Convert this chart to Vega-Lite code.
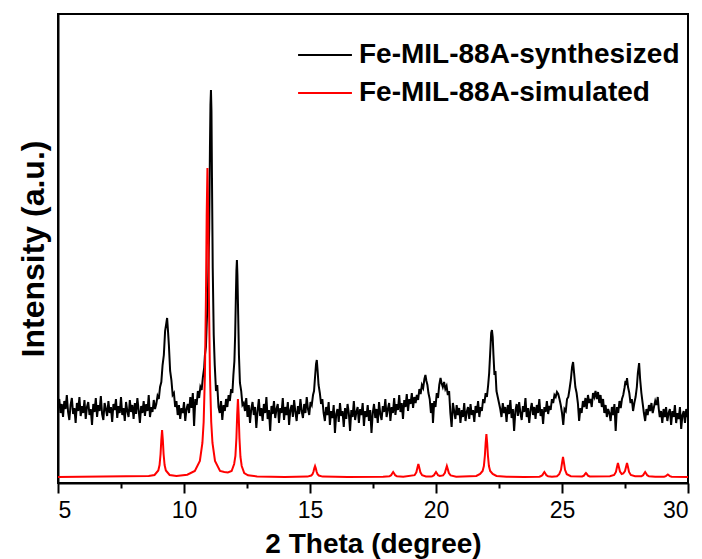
{
"$schema": "https://vega.github.io/schema/vega-lite/v6.json",
"width": 630, "height": 469,
"autosize": "none",
"padding": {"left": 58, "top": 14, "right": 14, "bottom": 76},
"background": "white",
"config": {"view": {"stroke": "black", "strokeWidth": 2}, "font": "Liberation Sans",
  "legend": {"title": null, "orient": "none", "symbolType": "stroke", "symbolSize": 2900, "symbolStrokeWidth": 2,
    "labelFontSize": 28, "labelFontWeight": "bold", "labelColor": "black", "labelFont": "Liberation Sans", "labelOffset": 6, "labelLimit": 500, "padding": 0}},
"datasets": {
"synthesized": [
{"theta":5.00,"intensity":76},{"theta":5.05,"intensity":84},{"theta":5.10,"intensity":70},{"theta":5.15,"intensity":79},{"theta":5.20,"intensity":66},{"theta":5.25,"intensity":82},{"theta":5.30,"intensity":74},{"theta":5.35,"intensity":88},{"theta":5.40,"intensity":71},{"theta":5.45,"intensity":63},{"theta":5.50,"intensity":78},{"theta":5.55,"intensity":85},{"theta":5.60,"intensity":69},{"theta":5.65,"intensity":75},{"theta":5.70,"intensity":60},{"theta":5.75,"intensity":80},{"theta":5.80,"intensity":72},{"theta":5.85,"intensity":86},{"theta":5.90,"intensity":67},{"theta":5.95,"intensity":77},
{"theta":6.00,"intensity":70},{"theta":6.05,"intensity":83},{"theta":6.10,"intensity":64},{"theta":6.15,"intensity":76},{"theta":6.20,"intensity":81},{"theta":6.25,"intensity":68},{"theta":6.30,"intensity":74},{"theta":6.35,"intensity":58},{"theta":6.40,"intensity":79},{"theta":6.45,"intensity":71},{"theta":6.50,"intensity":85},{"theta":6.55,"intensity":66},{"theta":6.60,"intensity":78},{"theta":6.65,"intensity":72},{"theta":6.70,"intensity":87},{"theta":6.75,"intensity":69},{"theta":6.80,"intensity":63},{"theta":6.85,"intensity":80},{"theta":6.90,"intensity":74},{"theta":6.95,"intensity":67},
{"theta":7.00,"intensity":82},{"theta":7.05,"intensity":70},{"theta":7.10,"intensity":76},{"theta":7.15,"intensity":61},{"theta":7.20,"intensity":79},{"theta":7.25,"intensity":73},{"theta":7.30,"intensity":84},{"theta":7.35,"intensity":65},{"theta":7.40,"intensity":77},{"theta":7.45,"intensity":70},{"theta":7.50,"intensity":86},{"theta":7.55,"intensity":68},{"theta":7.60,"intensity":75},{"theta":7.65,"intensity":62},{"theta":7.70,"intensity":81},{"theta":7.75,"intensity":72},{"theta":7.80,"intensity":66},{"theta":7.85,"intensity":83},{"theta":7.90,"intensity":71},{"theta":7.95,"intensity":78},
{"theta":8.00,"intensity":64},{"theta":8.05,"intensity":80},{"theta":8.10,"intensity":69},{"theta":8.15,"intensity":85},{"theta":8.20,"intensity":73},{"theta":8.25,"intensity":60},{"theta":8.30,"intensity":77},{"theta":8.35,"intensity":70},{"theta":8.40,"intensity":82},{"theta":8.45,"intensity":67},{"theta":8.50,"intensity":79},{"theta":8.55,"intensity":72},{"theta":8.60,"intensity":88},{"theta":8.65,"intensity":66},{"theta":8.70,"intensity":76},{"theta":8.75,"intensity":71},{"theta":8.80,"intensity":83},{"theta":8.85,"intensity":74},
{"theta":8.90,"intensity":79},{"theta":8.95,"intensity":87},{"theta":9.00,"intensity":84},{"theta":9.05,"intensity":96},{"theta":9.10,"intensity":101},{"theta":9.15,"intensity":118},{"theta":9.20,"intensity":128},{"theta":9.25,"intensity":152},{"theta":9.30,"intensity":160},{"theta":9.33,"intensity":165},{"theta":9.36,"intensity":154},{"theta":9.40,"intensity":138},{"theta":9.45,"intensity":112},{"theta":9.50,"intensity":103},{"theta":9.55,"intensity":88},{"theta":9.60,"intensity":90},{"theta":9.65,"intensity":76},{"theta":9.70,"intensity":82},
{"theta":9.75,"intensity":68},{"theta":9.80,"intensity":78},{"theta":9.85,"intensity":64},{"theta":9.90,"intensity":75},{"theta":9.95,"intensity":70},{"theta":10.00,"intensity":81},{"theta":10.05,"intensity":62},{"theta":10.10,"intensity":74},{"theta":10.15,"intensity":79},
{"theta":10.20,"intensity":70},{"theta":10.25,"intensity":86},{"theta":10.30,"intensity":75},{"theta":10.35,"intensity":90},{"theta":10.40,"intensity":57},{"theta":10.45,"intensity":84},{"theta":10.50,"intensity":78},{"theta":10.55,"intensity":92},{"theta":10.60,"intensity":85},{"theta":10.65,"intensity":96},{"theta":10.70,"intensity":93},
{"theta":10.75,"intensity":106},{"theta":10.80,"intensity":115},{"theta":10.83,"intensity":128},{"theta":10.87,"intensity":136},{"theta":10.90,"intensity":158},{"theta":10.95,"intensity":190},{"theta":11.00,"intensity":255},{"theta":11.03,"intensity":335},{"theta":11.05,"intensity":378},{"theta":11.07,"intensity":393},{"theta":11.09,"intensity":372},{"theta":11.11,"intensity":305},{"theta":11.14,"intensity":215},{"theta":11.18,"intensity":148},{"theta":11.22,"intensity":118},{"theta":11.27,"intensity":92},{"theta":11.32,"intensity":98},{"theta":11.37,"intensity":76},
{"theta":11.42,"intensity":70},{"theta":11.47,"intensity":82},{"theta":11.52,"intensity":63},{"theta":11.57,"intensity":78},{"theta":11.62,"intensity":72},{"theta":11.67,"intensity":84},{"theta":11.72,"intensity":76},{"theta":11.77,"intensity":88},{"theta":11.82,"intensity":82},
{"theta":11.87,"intensity":94},{"theta":11.92,"intensity":90},{"theta":11.96,"intensity":108},{"theta":12.00,"intensity":122},{"theta":12.03,"intensity":148},{"theta":12.06,"intensity":188},{"theta":12.08,"intensity":212},{"theta":12.10,"intensity":223},{"theta":12.12,"intensity":208},{"theta":12.15,"intensity":168},{"theta":12.18,"intensity":128},{"theta":12.22,"intensity":100},{"theta":12.27,"intensity":92},{"theta":12.32,"intensity":78},{"theta":12.37,"intensity":80},
{"theta":12.42,"intensity":72},{"theta":12.47,"intensity":85},{"theta":12.52,"intensity":66},{"theta":12.57,"intensity":78},{"theta":12.62,"intensity":60},{"theta":12.67,"intensity":74},{"theta":12.72,"intensity":81},{"theta":12.77,"intensity":68},{"theta":12.82,"intensity":76},{"theta":12.87,"intensity":55},{"theta":12.92,"intensity":72},{"theta":12.97,"intensity":84},
{"theta":13.02,"intensity":67},{"theta":13.07,"intensity":75},{"theta":13.12,"intensity":62},{"theta":13.17,"intensity":79},{"theta":13.22,"intensity":70},{"theta":13.27,"intensity":86},{"theta":13.32,"intensity":64},{"theta":13.37,"intensity":73},{"theta":13.42,"intensity":52},{"theta":13.47,"intensity":77},{"theta":13.52,"intensity":69},{"theta":13.57,"intensity":82},{"theta":13.62,"intensity":65},{"theta":13.67,"intensity":74},{"theta":13.72,"intensity":79},{"theta":13.77,"intensity":60},{"theta":13.82,"intensity":75},{"theta":13.87,"intensity":70},{"theta":13.92,"intensity":85},{"theta":13.97,"intensity":63},
{"theta":14.02,"intensity":76},{"theta":14.07,"intensity":68},{"theta":14.12,"intensity":81},{"theta":14.17,"intensity":58},{"theta":14.22,"intensity":73},{"theta":14.27,"intensity":78},{"theta":14.32,"intensity":66},{"theta":14.37,"intensity":83},{"theta":14.42,"intensity":71},{"theta":14.47,"intensity":62},{"theta":14.52,"intensity":77},{"theta":14.57,"intensity":69},{"theta":14.62,"intensity":84},{"theta":14.67,"intensity":72},{"theta":14.72,"intensity":65},{"theta":14.77,"intensity":79},{"theta":14.82,"intensity":70},{"theta":14.87,"intensity":86},{"theta":14.92,"intensity":74},{"theta":14.97,"intensity":68},{"theta":15.02,"intensity":81},
{"theta":15.07,"intensity":78},{"theta":15.12,"intensity":88},{"theta":15.16,"intensity":92},{"theta":15.20,"intensity":106},{"theta":15.24,"intensity":119},{"theta":15.27,"intensity":123},{"theta":15.30,"intensity":113},{"theta":15.34,"intensity":98},{"theta":15.39,"intensity":90},{"theta":15.44,"intensity":79},{"theta":15.49,"intensity":84},
{"theta":15.54,"intensity":70},{"theta":15.59,"intensity":62},{"theta":15.64,"intensity":76},{"theta":15.69,"intensity":68},{"theta":15.74,"intensity":81},{"theta":15.79,"intensity":58},{"theta":15.84,"intensity":72},{"theta":15.89,"intensity":65},{"theta":15.94,"intensity":78},{"theta":15.99,"intensity":50},
{"theta":16.04,"intensity":69},{"theta":16.09,"intensity":74},{"theta":16.14,"intensity":61},{"theta":16.19,"intensity":80},{"theta":16.24,"intensity":67},{"theta":16.29,"intensity":72},{"theta":16.34,"intensity":56},{"theta":16.39,"intensity":75},{"theta":16.44,"intensity":64},{"theta":16.49,"intensity":79},{"theta":16.54,"intensity":70},{"theta":16.59,"intensity":52},{"theta":16.64,"intensity":73},{"theta":16.69,"intensity":66},{"theta":16.74,"intensity":82},{"theta":16.79,"intensity":63},{"theta":16.84,"intensity":71},{"theta":16.89,"intensity":76},{"theta":16.94,"intensity":60},{"theta":16.99,"intensity":74},
{"theta":17.04,"intensity":68},{"theta":17.09,"intensity":80},{"theta":17.14,"intensity":57},{"theta":17.19,"intensity":72},{"theta":17.24,"intensity":66},{"theta":17.29,"intensity":78},{"theta":17.34,"intensity":62},{"theta":17.39,"intensity":73},{"theta":17.44,"intensity":50},{"theta":17.49,"intensity":70},{"theta":17.54,"intensity":79},{"theta":17.59,"intensity":65},{"theta":17.64,"intensity":74},{"theta":17.69,"intensity":60},{"theta":17.74,"intensity":81},{"theta":17.79,"intensity":69},{"theta":17.84,"intensity":63},{"theta":17.89,"intensity":77},{"theta":17.94,"intensity":71},{"theta":17.99,"intensity":84},
{"theta":18.04,"intensity":66},{"theta":18.09,"intensity":74},{"theta":18.14,"intensity":80},{"theta":18.19,"intensity":62},{"theta":18.24,"intensity":76},{"theta":18.29,"intensity":70},{"theta":18.34,"intensity":85},{"theta":18.39,"intensity":68},{"theta":18.44,"intensity":79},{"theta":18.49,"intensity":73},{"theta":18.54,"intensity":88},{"theta":18.59,"intensity":71},{"theta":18.64,"intensity":80},{"theta":18.69,"intensity":64},{"theta":18.74,"intensity":83},{"theta":18.79,"intensity":76},{"theta":18.84,"intensity":89},{"theta":18.89,"intensity":72},{"theta":18.94,"intensity":84},{"theta":18.99,"intensity":79},
{"theta":19.04,"intensity":90},{"theta":19.09,"intensity":75},{"theta":19.14,"intensity":86},{"theta":19.19,"intensity":80},
{"theta":19.24,"intensity":88},{"theta":19.29,"intensity":83},{"theta":19.34,"intensity":94},{"theta":19.39,"intensity":89},{"theta":19.44,"intensity":98},{"theta":19.49,"intensity":95},{"theta":19.54,"intensity":104},{"theta":19.58,"intensity":108},{"theta":19.62,"intensity":102},{"theta":19.66,"intensity":98},{"theta":19.70,"intensity":90},{"theta":19.75,"intensity":84},{"theta":19.80,"intensity":70},{"theta":19.85,"intensity":80},{"theta":19.88,"intensity":60},{"theta":19.93,"intensity":82},{"theta":19.98,"intensity":76},
{"theta":20.03,"intensity":90},{"theta":20.08,"intensity":85},{"theta":20.13,"intensity":98},{"theta":20.18,"intensity":105},{"theta":20.22,"intensity":100},{"theta":20.27,"intensity":96},{"theta":20.32,"intensity":101},{"theta":20.37,"intensity":94},{"theta":20.42,"intensity":97},{"theta":20.47,"intensity":88},{"theta":20.52,"intensity":92},{"theta":20.57,"intensity":70},{"theta":20.62,"intensity":56},{"theta":20.67,"intensity":80},
{"theta":20.72,"intensity":72},{"theta":20.77,"intensity":64},{"theta":20.82,"intensity":78},{"theta":20.87,"intensity":68},{"theta":20.92,"intensity":75},{"theta":20.97,"intensity":60},{"theta":21.02,"intensity":73},{"theta":21.07,"intensity":66},{"theta":21.12,"intensity":80},{"theta":21.17,"intensity":62},{"theta":21.22,"intensity":71},{"theta":21.27,"intensity":76},{"theta":21.32,"intensity":64},{"theta":21.37,"intensity":79},{"theta":21.42,"intensity":68},{"theta":21.47,"intensity":73},{"theta":21.52,"intensity":61},{"theta":21.57,"intensity":77},{"theta":21.62,"intensity":70},{"theta":21.67,"intensity":82},{"theta":21.72,"intensity":66},{"theta":21.77,"intensity":76},{"theta":21.82,"intensity":72},{"theta":21.87,"intensity":84},
{"theta":21.92,"intensity":80},{"theta":21.97,"intensity":90},{"theta":22.02,"intensity":86},{"theta":22.07,"intensity":98},{"theta":22.11,"intensity":110},{"theta":22.15,"intensity":130},{"theta":22.19,"intensity":150},{"theta":22.22,"intensity":153},{"theta":22.25,"intensity":146},{"theta":22.28,"intensity":128},{"theta":22.32,"intensity":108},{"theta":22.36,"intensity":112},{"theta":22.40,"intensity":92},{"theta":22.45,"intensity":86},{"theta":22.50,"intensity":80},
{"theta":22.55,"intensity":74},{"theta":22.60,"intensity":66},{"theta":22.65,"intensity":80},{"theta":22.70,"intensity":70},{"theta":22.75,"intensity":76},{"theta":22.80,"intensity":61},{"theta":22.85,"intensity":78},{"theta":22.90,"intensity":69},{"theta":22.95,"intensity":83},{"theta":23.00,"intensity":65},{"theta":23.05,"intensity":74},{"theta":23.10,"intensity":52},{"theta":23.15,"intensity":72},{"theta":23.20,"intensity":79},{"theta":23.25,"intensity":67},{"theta":23.30,"intensity":81},{"theta":23.35,"intensity":70},{"theta":23.40,"intensity":63},{"theta":23.45,"intensity":77},{"theta":23.50,"intensity":71},{"theta":23.55,"intensity":85},{"theta":23.60,"intensity":66},{"theta":23.65,"intensity":75},{"theta":23.70,"intensity":60},{"theta":23.75,"intensity":73},{"theta":23.80,"intensity":80},{"theta":23.85,"intensity":68},{"theta":23.90,"intensity":76},{"theta":23.95,"intensity":64},
{"theta":24.00,"intensity":78},{"theta":24.05,"intensity":70},{"theta":24.10,"intensity":84},{"theta":24.15,"intensity":67},{"theta":24.20,"intensity":74},{"theta":24.25,"intensity":59},{"theta":24.30,"intensity":76},{"theta":24.35,"intensity":71},{"theta":24.40,"intensity":82},{"theta":24.45,"intensity":69},{"theta":24.50,"intensity":77},{"theta":24.55,"intensity":73},{"theta":24.60,"intensity":84},
{"theta":24.65,"intensity":80},{"theta":24.70,"intensity":88},{"theta":24.75,"intensity":86},{"theta":24.80,"intensity":91},{"theta":24.85,"intensity":89},{"theta":24.90,"intensity":84},{"theta":24.95,"intensity":78},{"theta":25.00,"intensity":70},{"theta":25.05,"intensity":58},{"theta":25.10,"intensity":74},{"theta":25.15,"intensity":72},{"theta":25.20,"intensity":84},{"theta":25.25,"intensity":86},{"theta":25.30,"intensity":94},{"theta":25.35,"intensity":103},{"theta":25.40,"intensity":116},{"theta":25.44,"intensity":121},{"theta":25.48,"intensity":110},{"theta":25.53,"intensity":96},{"theta":25.58,"intensity":90},{"theta":25.63,"intensity":80},
{"theta":25.68,"intensity":62},{"theta":25.73,"intensity":75},{"theta":25.78,"intensity":70},{"theta":25.83,"intensity":82},{"theta":25.88,"intensity":76},{"theta":25.93,"intensity":85},{"theta":25.98,"intensity":74},{"theta":26.03,"intensity":88},{"theta":26.08,"intensity":80},{"theta":26.13,"intensity":84},{"theta":26.18,"intensity":76},{"theta":26.23,"intensity":90},{"theta":26.28,"intensity":86},{"theta":26.33,"intensity":92},{"theta":26.38,"intensity":84},{"theta":26.43,"intensity":91},{"theta":26.48,"intensity":80},{"theta":26.53,"intensity":88},{"theta":26.58,"intensity":76},{"theta":26.63,"intensity":84},{"theta":26.68,"intensity":70},{"theta":26.73,"intensity":78},{"theta":26.78,"intensity":66},{"theta":26.83,"intensity":74},{"theta":26.88,"intensity":70},{"theta":26.93,"intensity":62},{"theta":26.98,"intensity":76},
{"theta":27.03,"intensity":68},{"theta":27.08,"intensity":79},{"theta":27.13,"intensity":52},{"theta":27.18,"intensity":76},{"theta":27.23,"intensity":70},{"theta":27.28,"intensity":82},{"theta":27.33,"intensity":75},
{"theta":27.38,"intensity":84},{"theta":27.43,"intensity":88},{"theta":27.48,"intensity":95},{"theta":27.52,"intensity":102},{"theta":27.55,"intensity":98},{"theta":27.58,"intensity":105},{"theta":27.62,"intensity":96},{"theta":27.67,"intensity":90},{"theta":27.72,"intensity":80},{"theta":27.77,"intensity":84},{"theta":27.82,"intensity":72},{"theta":27.87,"intensity":80},{"theta":27.92,"intensity":86},{"theta":27.97,"intensity":96},{"theta":28.01,"intensity":110},{"theta":28.06,"intensity":120},{"theta":28.10,"intensity":104},{"theta":28.15,"intensity":90},{"theta":28.20,"intensity":80},{"theta":28.25,"intensity":70},
{"theta":28.30,"intensity":62},{"theta":28.35,"intensity":74},{"theta":28.40,"intensity":68},{"theta":28.45,"intensity":78},{"theta":28.50,"intensity":72},{"theta":28.55,"intensity":80},{"theta":28.60,"intensity":70},{"theta":28.65,"intensity":76},{"theta":28.70,"intensity":82},{"theta":28.75,"intensity":78},{"theta":28.80,"intensity":86},{"theta":28.84,"intensity":74},{"theta":28.88,"intensity":66},{"theta":28.93,"intensity":72},{"theta":28.98,"intensity":60},
{"theta":29.03,"intensity":74},{"theta":29.08,"intensity":66},{"theta":29.13,"intensity":76},{"theta":29.18,"intensity":62},{"theta":29.23,"intensity":70},{"theta":29.28,"intensity":74},{"theta":29.33,"intensity":58},{"theta":29.38,"intensity":72},{"theta":29.43,"intensity":66},{"theta":29.48,"intensity":78},{"theta":29.53,"intensity":60},{"theta":29.58,"intensity":70},{"theta":29.63,"intensity":64},{"theta":29.68,"intensity":76},{"theta":29.73,"intensity":54},{"theta":29.78,"intensity":68},{"theta":29.83,"intensity":72},{"theta":29.88,"intensity":60},{"theta":29.93,"intensity":74},{"theta":29.98,"intensity":66},{"theta":30.00,"intensity":70}
],
"simulated": [
{"theta":5.0,"intensity":6},{"theta":8.6,"intensity":7},{"theta":8.83,"intensity":8},{"theta":8.98,"intensity":12.5},{"theta":9.03,"intensity":18},{"theta":9.07,"intensity":29},{"theta":9.10,"intensity":43},{"theta":9.13,"intensity":53},{"theta":9.16,"intensity":43},{"theta":9.19,"intensity":29},{"theta":9.23,"intensity":18},{"theta":9.28,"intensity":12.5},{"theta":9.43,"intensity":8},{"theta":9.7,"intensity":7},
{"theta":10.13,"intensity":8.3},{"theta":10.43,"intensity":12},{"theta":10.63,"intensity":22},{"theta":10.73,"intensity":40},{"theta":10.78,"intensity":61},{"theta":10.83,"intensity":108},{"theta":10.87,"intensity":184},{"theta":10.90,"intensity":267},{"theta":10.93,"intensity":315},{"theta":10.96,"intensity":267},{"theta":10.99,"intensity":184},{"theta":11.03,"intensity":108},{"theta":11.08,"intensity":61},{"theta":11.13,"intensity":40},{"theta":11.23,"intensity":22},{"theta":11.43,"intensity":12},
{"theta":11.6,"intensity":11},{"theta":11.74,"intensity":10.5},{"theta":11.89,"intensity":12},{"theta":11.99,"intensity":19},{"theta":12.04,"intensity":27},{"theta":12.08,"intensity":45},{"theta":12.11,"intensity":68},{"theta":12.14,"intensity":84},{"theta":12.17,"intensity":68},{"theta":12.20,"intensity":45},{"theta":12.24,"intensity":26},{"theta":12.29,"intensity":17},{"theta":12.39,"intensity":10},{"theta":12.54,"intensity":7.7},{"theta":12.9,"intensity":6.5},{"theta":14.0,"intensity":6},
{"theta":14.9,"intensity":6.4},{"theta":15.05,"intensity":7.5},{"theta":15.1,"intensity":8.9},{"theta":15.14,"intensity":11.5},{"theta":15.17,"intensity":14.8},{"theta":15.2,"intensity":17},{"theta":15.23,"intensity":14.8},{"theta":15.26,"intensity":11.5},{"theta":15.3,"intensity":8.9},{"theta":15.35,"intensity":7.5},{"theta":15.5,"intensity":6.4},{"theta":16.5,"intensity":6},
{"theta":17.9,"intensity":6.2},{"theta":18.15,"intensity":6.7},{"theta":18.22,"intensity":7.8},{"theta":18.26,"intensity":9.5},{"theta":18.3,"intensity":11},{"theta":18.34,"intensity":9.5},{"theta":18.38,"intensity":7.8},{"theta":18.45,"intensity":6.7},{"theta":18.7,"intensity":6.2},
{"theta":19.15,"intensity":7.8},{"theta":19.22,"intensity":10.7},{"theta":19.26,"intensity":15},{"theta":19.3,"intensity":19},{"theta":19.34,"intensity":15},{"theta":19.38,"intensity":10.7},{"theta":19.45,"intensity":7.8},{"theta":19.6,"intensity":6.5},
{"theta":19.8,"intensity":6.5},{"theta":19.85,"intensity":6.7},{"theta":19.92,"intensity":7.8},{"theta":19.96,"intensity":9.5},{"theta":20.0,"intensity":11},{"theta":20.04,"intensity":9.5},{"theta":20.08,"intensity":7.8},{"theta":20.15,"intensity":7},
{"theta":20.28,"intensity":7.6},{"theta":20.35,"intensity":10},{"theta":20.39,"intensity":13.6},{"theta":20.43,"intensity":17},{"theta":20.47,"intensity":13.6},{"theta":20.51,"intensity":10},{"theta":20.58,"intensity":7.6},{"theta":20.8,"intensity":6.3},
{"theta":21.6,"intensity":7},{"theta":21.75,"intensity":9},{"theta":21.85,"intensity":12},{"theta":21.9,"intensity":17},{"theta":21.94,"intensity":27.5},{"theta":21.97,"intensity":40},{"theta":22.0,"intensity":49},{"theta":22.03,"intensity":40},{"theta":22.06,"intensity":27.5},{"theta":22.1,"intensity":17},{"theta":22.15,"intensity":12},{"theta":22.25,"intensity":9},{"theta":22.4,"intensity":7},{"theta":22.8,"intensity":6.3},{"theta":23.5,"intensity":6},
{"theta":24.1,"intensity":6.3},{"theta":24.15,"intensity":6.7},{"theta":24.22,"intensity":7.8},{"theta":24.26,"intensity":9.5},{"theta":24.3,"intensity":11},{"theta":24.34,"intensity":9.5},{"theta":24.38,"intensity":7.8},{"theta":24.45,"intensity":6.7},{"theta":24.6,"intensity":6.3},
{"theta":24.8,"intensity":6.8},{"theta":24.89,"intensity":8.8},{"theta":24.96,"intensity":13.2},{"theta":25.0,"intensity":19.8},{"theta":25.04,"intensity":26},{"theta":25.08,"intensity":19.8},{"theta":25.12,"intensity":13.2},{"theta":25.19,"intensity":8.8},{"theta":25.35,"intensity":6.8},
{"theta":25.8,"intensity":6.5},{"theta":25.87,"intensity":7.4},{"theta":25.91,"intensity":8.8},{"theta":25.95,"intensity":10},{"theta":25.99,"intensity":8.8},{"theta":26.03,"intensity":7.4},{"theta":26.1,"intensity":6.5},
{"theta":26.9,"intensity":6.8},{"theta":27.07,"intensity":8},{"theta":27.14,"intensity":11},{"theta":27.18,"intensity":15.7},{"theta":27.22,"intensity":20},{"theta":27.26,"intensity":15.7},{"theta":27.3,"intensity":11.5},{"theta":27.37,"intensity":9},{"theta":27.43,"intensity":9.5},{"theta":27.5,"intensity":12},{"theta":27.54,"intensity":16},{"theta":27.58,"intensity":20},{"theta":27.62,"intensity":15.7},{"theta":27.66,"intensity":11},{"theta":27.73,"intensity":8},{"theta":27.9,"intensity":6.8},
{"theta":28.15,"intensity":6.7},{"theta":28.22,"intensity":7.8},{"theta":28.26,"intensity":9.5},{"theta":28.3,"intensity":11},{"theta":28.34,"intensity":9.5},{"theta":28.38,"intensity":7.8},{"theta":28.45,"intensity":6.7},{"theta":28.7,"intensity":6.2},
{"theta":29.05,"intensity":6.3},{"theta":29.12,"intensity":6.9},{"theta":29.16,"intensity":7.7},{"theta":29.2,"intensity":8.5},{"theta":29.24,"intensity":7.7},{"theta":29.28,"intensity":6.9},{"theta":29.35,"intensity":6.3},{"theta":30.0,"intensity":6}
]
},
"encoding": {
  "x": {"field": "theta", "type": "quantitative", "scale": {"domain": [5, 30], "nice": false},
    "axis": {"values": [5, 7.5, 10, 12.5, 15, 17.5, 20, 22.5, 25, 27.5, 30],
      "labelExpr": "datum.value % 5 === 0 ? datum.label : ''",
      "tickSize": {"condition": {"test": "datum.value % 5 === 0", "value": 10}, "value": 5},
      "tickWidth": 2, "tickColor": "black", "domainColor": "black", "domainWidth": 2,
      "labelFontSize": 23, "labelColor": "black", "labelPadding": 6, "labelFont": "Liberation Sans",
      "title": "2 Theta (degree)", "titleFontSize": 28, "titleFontWeight": "bold", "titleColor": "black", "titleFont": "Liberation Sans", "titlePadding": 8, "grid": false}},
  "y": {"field": "intensity", "type": "quantitative", "scale": {"domain": [0, 469], "nice": false, "zero": false},
    "axis": {"title": "Intensity (a.u.)", "ticks": false, "labels": false, "domainColor": "black", "domainWidth": 2,
      "titleFontSize": 32, "titleFontWeight": "bold", "titleColor": "black", "titleFont": "Liberation Sans", "titlePadding": 8, "grid": false}}
},
"layer": [
  {"data": {"name": "synthesized"},
   "mark": {"type": "line", "strokeWidth": 2, "clip": true, "interpolate": "linear"},
   "encoding": {"color": {"datum": "Fe-MIL-88A-synthesized", "type": "nominal",
      "scale": {"domain": ["Fe-MIL-88A-synthesized"], "range": ["#000000"]},
      "legend": {"legendX": 239, "legendY": 13}}}},
  {"data": {"name": "simulated"},
   "mark": {"type": "line", "strokeWidth": 2, "clip": true, "interpolate": "linear"},
   "encoding": {"stroke": {"datum": "Fe-MIL-88A-simulated", "type": "nominal",
      "scale": {"domain": ["Fe-MIL-88A-simulated"], "range": ["#ff0000"]},
      "legend": {"legendX": 239, "legendY": 51}}}}
]
}
